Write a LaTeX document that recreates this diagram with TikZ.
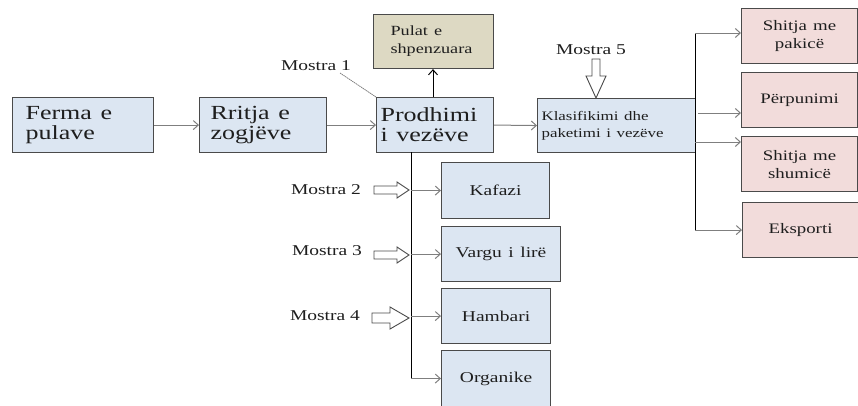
\documentclass[tikz,border=0pt]{standalone}
\usepackage{fontspec}
\setmainfont{Liberation Serif}
\usetikzlibrary{arrows.meta}
\newcommand{\wdtxt}[1]{\scalebox{1.3}[1]{#1}}
\definecolor{boxblue}{HTML}{DCE6F2}
\definecolor{boxtan}{HTML}{DDD9C3}
\definecolor{boxpink}{HTML}{F2DCDB}
\definecolor{edgecol}{HTML}{4A4A4A}
\definecolor{arrcol}{HTML}{7F7F7F}
\definecolor{txt}{HTML}{1E1E1E}
\begin{document}
\begin{tikzpicture}[x=1pt,y=-1pt,
  bx/.style={draw=edgecol, line width=1.1pt, rectangle, anchor=north west, inner ysep=0pt, text=txt},
  bluebox/.style={bx, fill=boxblue},
  tanbox/.style={bx, fill=boxtan},
  pinkbox/.style={bx, fill=boxpink},
  bigtext/.style={font=\rmfamily\fontsize{20}{20}\selectfont, align=left},
  midtext/.style={font=\rmfamily\fontsize{13}{17}\selectfont, align=left},
  smalltext/.style={font=\rmfamily\fontsize{15}{18}\selectfont, align=center},
  rtext/.style={font=\rmfamily\fontsize{14.5}{18}\selectfont, align=center},
  lbl/.style={font=\rmfamily\fontsize{15}{18}\selectfont, text=txt, inner sep=0pt},
  conn/.style={draw=arrcol, line width=1pt, -{Straight Barb[length=5pt,width=9pt]}},
  darr/.style={draw=black, line width=1pt, -{Straight Barb[length=5pt,width=9pt]}},
  vline/.style={draw=black, line width=1pt},
  block/.style={draw=edgecol, line width=0.9pt, fill=white}
]
\useasboundingbox (0,0) rectangle (858,405);

% main row
\node[bluebox, bigtext, inner xsep=13pt, text width=115pt, minimum height=55pt] (ferma) at (12,97) {\wdtxt{Ferma e}\\\wdtxt{pulave}};
\node[bluebox, bigtext, inner xsep=11pt, text width=105pt, minimum height=55pt] (rritja) at (199,97) {\wdtxt{Rritja e}\\\wdtxt{zogjëve}};
\node[bluebox, bigtext, inner xsep=4pt, text width=109pt, minimum height=55pt] (prod) at (376,97) {\wdtxt{Prodhimi}\\\wdtxt{i vezëve}};
\node[tanbox, font=\rmfamily\fontsize{14}{18}\selectfont, align=left, inner xsep=17pt, text width=86pt, minimum height=54pt] (pulat) at (373,14) {\wdtxt{Pulat e}\\\wdtxt{shpenzuara}};
\node[bluebox, midtext, inner xsep=4pt, text width=150pt, minimum height=54pt] (klas) at (537,98) {\wdtxt{Klasifikimi dhe}\\\wdtxt{paketimi i vezëve}};

% right column
\node[pinkbox, rtext, inner xsep=0pt, text width=116pt, minimum height=55pt] (pak) at (741,8) {\wdtxt{Shitja me}\\\wdtxt{pakicë}};
\node[pinkbox, rtext, inner xsep=0pt, text width=116pt, minimum height=55pt] (perp) at (741,72) {\wdtxt{Përpunimi}};
\node[pinkbox, rtext, inner xsep=0pt, text width=116pt, minimum height=55pt] (shum) at (741,136) {\wdtxt{Shitja me}\\\wdtxt{shumicë}};
\node[pinkbox, rtext, inner xsep=0pt, text width=116pt, minimum height=55pt] (eksp) at (742,202) {\wdtxt{Eksporti}};

% lower column
\node[bluebox, smalltext, inner xsep=4pt, text width=100pt, minimum height=56pt] (kaf) at (441,162) {\wdtxt{Kafazi}};
\node[bluebox, smalltext, inner xsep=5pt, text width=109pt, minimum height=55pt] (varg) at (441,226) {\wdtxt{Vargu i lirë}};
\node[bluebox, smalltext, inner xsep=3pt, text width=103pt, minimum height=55pt] (hamb) at (441,288) {\wdtxt{Hambari}};
\node[bluebox, smalltext, inner xsep=5pt, text width=99pt, minimum height=56pt] (org) at (441,350) {\wdtxt{Organike}};

% labels
\node[lbl] (m1) at (316,66) {\wdtxt{Mostra 1}};
\node[lbl] (m2) at (326,190) {\wdtxt{Mostra 2}};
\node[lbl] (m3) at (327,251) {\wdtxt{Mostra 3}};
\node[lbl] (m4) at (325,316) {\wdtxt{Mostra 4}};
\node[lbl] (m5) at (591,50) {\wdtxt{Mostra 5}};

% main flow
\draw[conn] (ferma.east) -- (rritja.west);
\draw[conn] (rritja.east) -- (prod.west);
\draw[conn] (prod.east) -- (klas.west);
\draw[darr] (prod.north -| 433,0) -- (pulat.south -| 433,0);
\coordinate (m1e) at (340,73);
\draw[arrcol, line width=0.8pt, dash pattern=on 1.5pt off 0.6pt] (m1e) -- (prod.north west);

% lower branch
\coordinate (v) at (411,152);
\draw[vline] (v) -- (v |- org.west);
\draw[conn] (v |- kaf.west) -- (kaf.west);
\draw[conn] (v |- varg.west) -- (varg.west);
\draw[conn] (v |- hamb.west) -- (hamb.west);
\draw[conn] (v |- org.west) -- (org.west);

% right branch
\coordinate (r) at (695,33);
\draw[vline] (r) -- (r |- eksp.west);
\draw[conn] (r) -- (pak.west |- r);
\draw[conn] (698,113) -- (perp.west |- 0,113);
\draw[conn] (695,142) -- (shum.west |- 0,142);
\draw[conn] (r |- eksp.west) -- (eksp.west);

% block arrows
\draw[block] (374,186) -- (397,186) -- (397,182) -- (409,190) -- (397,198) -- (397,194) -- (374,194) -- cycle;
\draw[block] (374,251) -- (397,251) -- (397,247) -- (409,255) -- (397,263) -- (397,259) -- (374,259) -- cycle;
\draw[block] (372,313) -- (390,313) -- (390,307) -- (409,318) -- (390,329) -- (390,323) -- (372,323) -- cycle;
\draw[block] (592,59) -- (600,59) -- (600,76) -- (606,76) -- (596,98) -- (586,76) -- (592,76) -- cycle;
\end{tikzpicture}
\end{document}
